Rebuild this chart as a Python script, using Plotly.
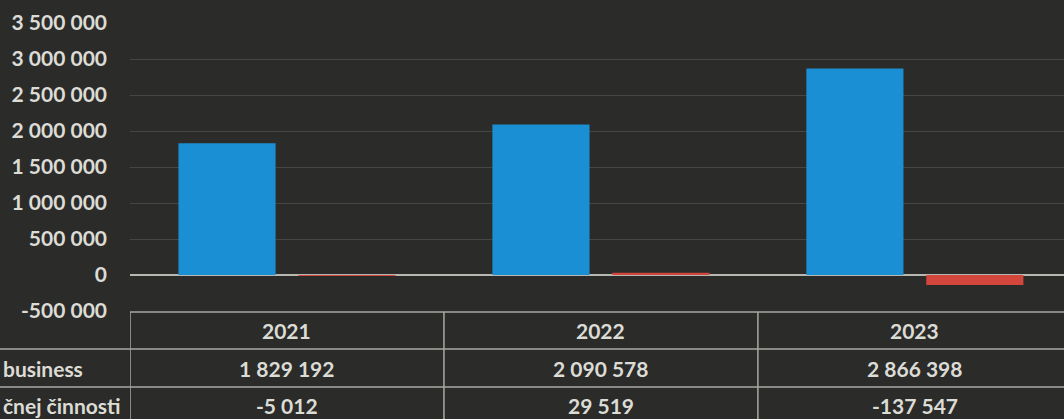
import plotly.graph_objects as go

years = ["2021", "2022", "2023"]
business = [1829192, 2090578, 2866398]
cinnosti = [-5012, 29519, -137547]
row_labels = ["business", "čnej činnosti"]
y_ticks = [-500000, 0, 500000, 1000000, 1500000, 2000000, 2500000, 3000000, 3500000]

BG = "#2b2b29"
TXT = "#dcdcd6"
LINE = "#a9a9a3"
FONT = "Lato"

W, H = 1064, 419
ML, MT, MB = 130, 23, 108
PW = W - ML
PH = H - MT - MB

def py(p):  # pixel y -> paper y
    return (H - MB - p) / PH

def px(p):  # pixel x -> paper x
    return (p - ML) / PW

def fmt(v):
    s = f"{abs(v):,}".replace(",", " ")
    return ("-" if v < 0 else "") + s

fig = go.Figure()
fig.add_trace(go.Bar(x=years, y=business, name=row_labels[0],
                     marker=dict(color="#1b8fd4", line=dict(width=0))))
fig.add_trace(go.Bar(x=years, y=cinnosti, name=row_labels[1],
                     marker=dict(color="#d2463c", line=dict(width=0))))

fig.update_layout(
    width=W, height=H,
    margin=dict(l=ML, r=0, t=MT, b=MB),
    paper_bgcolor=BG, plot_bgcolor=BG,
    showlegend=False,
    barmode="group", bargap=0.236, bargroupgap=0.19,
    font=dict(family=FONT, color=TXT, size=21),
)
fig.update_xaxes(type="category", range=[-0.5, 2.475], showticklabels=False,
                 showgrid=False, zeroline=False, showline=False, fixedrange=True)
fig.update_yaxes(range=[-500000, 3500000], tickvals=y_ticks,
                 ticktext=[fmt(v) for v in y_ticks],
                 showgrid=True, gridcolor="#464642", gridwidth=1,
                 zeroline=True, zerolinecolor="#b8b8b2", zerolinewidth=2,
                 showline=False, ticklabelstandoff=22,
                 tickfont=dict(family=FONT, size=21, color=TXT, weight="bold"))

# table grid
line = dict(color=LINE, width=1.5)
fig.add_shape(type="line", xref="paper", yref="paper", x0=0, x1=1, y0=py(312), y1=py(312), line=line)
for yy in (349, 387):
    fig.add_shape(type="line", xref="paper", yref="paper", x0=px(0), x1=1, y0=py(yy), y1=py(yy), line=line)
for i in range(len(years)):
    fig.add_shape(type="line", xref="x", yref="paper", x0=i - 0.5, x1=i - 0.5,
                  y0=py(312), y1=py(430), line=line)

cell_font = dict(family=FONT, size=21, color=TXT, weight="bold")

for i, yr in enumerate(years):
    for txt, yy in ((yr, 330), (fmt(business[i]), 368), (fmt(cinnosti[i]), 405)):
        fig.add_annotation(x=i, xref="x", y=py(yy), yref="paper", text=txt,
                           showarrow=False, font=cell_font, yanchor="middle",
                           xanchor="center")

fig.add_annotation(x=px(1), xref="paper", y=py(368), yref="paper", text=row_labels[0],
                   showarrow=False, font=cell_font, xanchor="left", yanchor="middle")
fig.add_annotation(x=px(1), xref="paper", y=py(405), yref="paper", text=row_labels[1],
                   showarrow=False, font=cell_font, xanchor="left", yanchor="middle")

fig.write_html("out.html", config={"displayModeBar": False})
